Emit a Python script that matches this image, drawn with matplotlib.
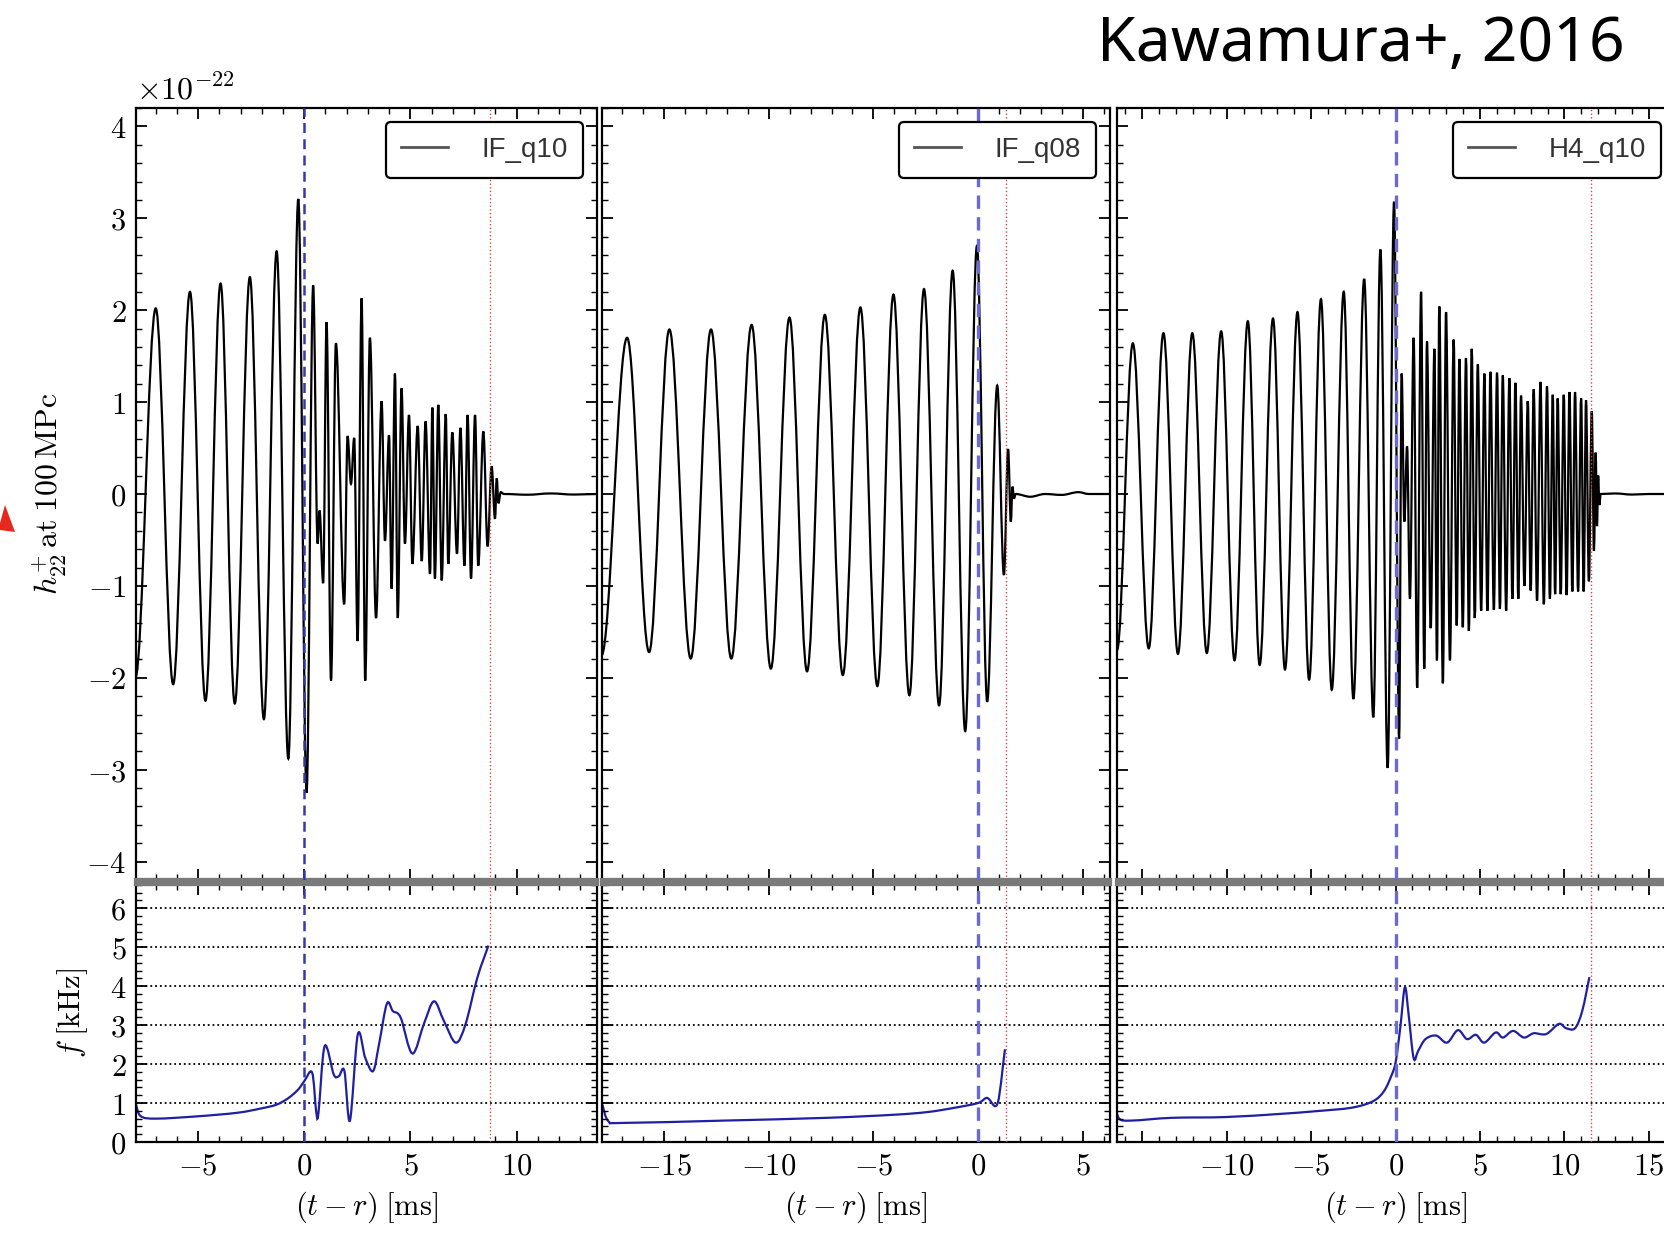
"""
Strain h22+ and instantaneous frequency for three BNS merger models (IF_q10, IF_q08, H4_q10),
redrawn from the Kawamura+ 2016 figure.
"""

import matplotlib

matplotlib.use("Agg")
import matplotlib.pyplot as plt
from matplotlib.lines import Line2D
from matplotlib.patches import PathPatch, Polygon
from matplotlib.path import Path
from matplotlib.ticker import FuncFormatter, MultipleLocator, NullFormatter

# --- strain extrema (t in ms, h in 1e-22) ---
q10_t = [-7.95, -6.99, -6.17, -5.38, -4.65, -3.94, -3.27, -2.56, -1.90, -1.30,
         -0.75, -0.28, 0.11, 0.42, 0.63, 0.72, 0.89, 1.05, 1.26, 1.49,
         1.88, 2.04, 2.20, 2.35, 2.51, 2.70, 2.87, 3.09, 3.38, 3.64,
         3.80, 3.99, 4.11, 4.27, 4.40, 4.58, 4.74, 4.93, 5.09, 5.34,
         5.53, 5.71, 5.92, 6.03, 6.15, 6.31, 6.47, 6.66, 6.78, 6.97,
         7.19, 7.35, 7.54, 7.69, 7.85, 8.04, 8.19, 8.43, 8.63, 8.82,
         8.98, 9.06, 9.14, 9.25, 9.40, 10.5, 11.6, 12.7, 13.8]
q10_h = [-2.00, 2.02, -2.07, 2.20, -2.25, 2.29, -2.28, 2.36, -2.45, 2.64,
         -2.88, 3.21, -3.25, 2.27, -0.54, -0.18, -0.97, 1.87, -2.03, 1.64,
         -1.20, 0.63, 0.11, 0.61, -1.60, 2.13, -2.03, 1.70, -1.35, 1.01,
         -0.51, 0.64, -1.03, 1.31, -1.35, 1.15, -0.54, 0.86, -0.76, 0.74,
         -0.73, 0.79, -0.87, 0.94, -0.92, 0.97, -0.94, 0.87, -0.76, 0.67,
         -0.65, 0.72, -0.78, 0.86, -0.92, 0.86, -0.78, 0.68, -0.57, 0.30,
         -0.27, 0.17, -0.10, 0.02, 0.0, -0.008, 0.006, -0.006, 0.0]

q08_t = [-18.0, -16.77, -15.72, -14.75, -13.73, -12.76, -11.79, -10.82, -9.90, -9.01,
         -8.17, -7.32, -6.46, -5.62, -4.81, -4.04, -3.28, -2.58, -1.86, -1.21,
         -0.61, -0.05, 0.44, 0.92, 1.24, 1.44, 1.57, 1.65, 1.72, 1.80,
         2.5, 3.2, 4.0, 4.8, 5.3, 6.3]
q08_h = [-1.76, 1.70, -1.72, 1.79, -1.79, 1.79, -1.79, 1.84, -1.90, 1.92,
         -1.93, 1.95, -1.97, 2.03, -2.09, 2.17, -2.19, 2.23, -2.30, 2.43,
         -2.58, 2.70, -2.26, 1.18, -0.88, 0.49, -0.30, 0.08, -0.05, 0.0,
         -0.03, 0.0, -0.01, 0.02, 0.0, 0.0]

h4_t = [-16.5, -15.56, -14.62, -13.75, -12.89, -12.04, -11.18, -10.33, -9.54, -8.75,
        -8.05, -7.26, -6.55, -5.81, -5.12, -4.42, -3.78, -3.07, -2.50, -1.86,
        -1.32, -0.90, -0.47, -0.09,
        0.21, 0.36, 0.52, 0.68, 0.85, 1.07, 1.28, 1.51, 1.70, 1.86,
        2.08, 2.30, 2.45, 2.59, 2.80, 2.99, 3.22, 3.44, 3.62, 3.78,
        3.98, 4.17, 4.34, 4.51, 4.69, 4.87, 5.07, 5.26, 5.44, 5.62,
        5.82, 6.01, 6.18, 6.35, 6.55, 6.74, 6.92, 7.10, 7.27, 7.43,
        7.63, 7.83, 8.00, 8.18, 8.38, 8.58, 8.78, 8.97, 9.14, 9.31,
        9.45, 9.60, 9.78, 9.96, 10.13, 10.30, 10.47, 10.63, 10.81, 10.99,
        11.14, 11.28, 11.45, 11.62, 11.75, 11.85, 11.93, 12.00, 12.07, 12.15,
        13.0, 14.0, 15.0, 16.5]
h4_h = [-1.70, 1.64, -1.68, 1.75, -1.74, 1.75, -1.73, 1.77, -1.81, 1.88,
        -1.86, 1.91, -1.91, 1.98, -2.02, 2.12, -2.13, 2.20, -2.23, 2.34,
        -2.43, 2.66, -2.98, 3.18,
        -2.66, 1.31, -0.30, 0.52, -1.14, 1.70, -2.11, 2.20, -1.90, 1.66,
        -1.46, 1.58, -1.81, 2.04, -2.06, 1.98, -1.81, 1.68, -1.43, 1.47,
        -1.45, 1.48, -1.49, 1.58, -1.35, 1.41, -1.27, 1.31, -1.27, 1.33,
        -1.26, 1.32, -1.25, 1.29, -1.27, 1.26, -1.14, 1.21, -1.14, 1.07,
        -1.00, 1.01, -1.05, 1.14, -1.16, 1.22, -1.20, 1.17, -1.14, 1.08,
        -1.09, 1.04, -1.09, 1.08, -1.10, 1.11, -1.06, 1.11, -1.06, 1.04,
        -1.06, 1.02, -0.95, 0.90, -0.62, 0.45, -0.35, 0.20, -0.12, 0.0,
        0.006, -0.006, 0.0, 0.0]

# --- instantaneous frequency (kHz) ---
q10_ft = [-7.92, -7.69, -6.94, -5.0, -3.15, -2.04, -1.30, -0.74, -0.28, 0.0,
          0.37, 0.56, 0.67, 0.96, 1.39, 1.63, 1.89, 2.15, 2.52, 2.87,
          3.24, 3.52, 3.89, 4.17, 4.54, 5.09, 5.65, 6.11, 6.57, 7.13,
          7.59, 8.15, 8.67]
q10_f = [0.96, 0.66, 0.60, 0.66, 0.75, 0.86, 0.96, 1.13, 1.35, 1.56,
         1.78, 0.79, 0.75, 2.46, 1.73, 1.69, 1.82, 0.55, 2.76, 2.16,
         1.82, 2.51, 3.55, 3.36, 3.19, 2.27, 3.06, 3.61, 3.11, 2.55,
         3.02, 4.22, 5.04]

q08_ft = [-17.95, -17.66, -16.93, -12.08, -7.24, -4.0, -2.39, -1.10, 0.0, 0.44,
          0.81, 1.0, 1.2, 1.29]
q08_f = [0.96, 0.53, 0.49, 0.55, 0.62, 0.70, 0.77, 0.88, 1.0, 1.13,
         0.92, 1.13, 1.99, 2.38]

h4_ft = [-16.58, -16.37, -15.62, -13.28, -10.07, -6.87, -4.74, -2.60, -1.32, -0.68,
         -0.26, 0.0, 0.28, 0.55, 0.77, 1.07, 1.34, 1.77, 2.41, 3.05,
         3.69, 4.23, 4.76, 5.25, 5.93, 6.36, 6.96, 7.60, 8.18, 8.92,
         9.67, 10.10, 10.63, 11.06, 11.48]
h4_f = [0.96, 0.60, 0.55, 0.62, 0.64, 0.72, 0.79, 0.88, 1.05, 1.31,
        1.69, 2.04, 2.94, 3.97, 3.28, 2.15, 2.34, 2.64, 2.73, 2.55,
        2.87, 2.64, 2.75, 2.55, 2.81, 2.68, 2.85, 2.68, 2.79, 2.77,
        3.03, 2.92, 2.92, 3.37, 4.23]

model_names = ["IF_q10", "IF_q08", "H4_q10"]
t_end = [8.75, 1.32, 11.59]  # red dotted line
x_limits = [(-7.92, 13.78), (-17.97, 6.31), (-16.5, 16.55)]
x_ticklabels_hidden = [[], [], [-15]]

W, H = 1665, 1240
PANEL_X = [(136, 597), (602, 1110), (1117, 1675)]
TOP_Y = (108, 880)
BOT_Y = (884, 1142)


def frac(x0, x1, y0, y1):
    return [x0 / W, 1 - y1 / H, (x1 - x0) / W, (y1 - y0) / H]


def wave_path(ts, hs, k=0.36):
    # smooth cubic segments between consecutive extrema, flat tangents at each extremum
    verts = [(ts[0], hs[0])]
    codes = [Path.MOVETO]
    for i in range(len(ts) - 1):
        dt = ts[i + 1] - ts[i]
        verts += [(ts[i] + k * dt, hs[i]), (ts[i + 1] - k * dt, hs[i + 1]), (ts[i + 1], hs[i + 1])]
        codes += [Path.CURVE4] * 3
    return Path(verts, codes)


def smooth_path(xs, ys):
    # Catmull-Rom style curve through the read points
    pts = list(zip(xs, ys))
    verts = [pts[0]]
    codes = [Path.MOVETO]
    for i in range(len(pts) - 1):
        p0 = pts[max(i - 1, 0)]
        p1 = pts[i]
        p2 = pts[i + 1]
        p3 = pts[min(i + 2, len(pts) - 1)]
        c1 = (p1[0] + (p2[0] - p0[0]) / 6, p1[1] + (p2[1] - p0[1]) / 6)
        c2 = (p2[0] - (p3[0] - p1[0]) / 6, p2[1] - (p3[1] - p1[1]) / 6)
        verts += [c1, c2, p2]
        codes += [Path.CURVE4] * 3
    return Path(verts, codes)


def style_axes(ax, xlim, ylim, xmaj, ymaj, ymin):
    ax.set_xlim(*xlim)
    ax.set_ylim(*ylim)
    ax.xaxis.set_major_locator(MultipleLocator(xmaj))
    ax.xaxis.set_minor_locator(MultipleLocator(1))
    ax.yaxis.set_major_locator(MultipleLocator(ymaj))
    ax.yaxis.set_minor_locator(MultipleLocator(ymin))
    ax.tick_params(which="both", direction="in", top=True, right=True, labelsize=22, pad=7)
    ax.tick_params(which="major", length=8, width=1.3)
    ax.tick_params(which="minor", length=4, width=1.0)
    for s in ax.spines.values():
        s.set_linewidth(1.6)


def main():
    plt.rcParams["mathtext.fontset"] = "cm"
    math_fmt = FuncFormatter(lambda v, p: f"${v:g}$")

    fig = plt.figure(figsize=(W / 100, H / 100), dpi=100)

    strains = [(q10_t, q10_h), (q08_t, q08_h), (h4_t, h4_h)]
    freqs = [(q10_ft, q10_f), (q08_ft, q08_f), (h4_ft, h4_f)]

    for i in range(3):
        x0, x1 = PANEL_X[i]
        ax = fig.add_axes(frac(x0, x1, *TOP_Y))
        bx = fig.add_axes(frac(x0, x1, *BOT_Y))

        style_axes(ax, x_limits[i], (-4.2, 4.2), 5, 1, 0.2)
        style_axes(bx, x_limits[i], (0, 6.62), 5, 1, 0.2)
        ax.spines["bottom"].set_color("#7a7a7a")
        ax.spines["bottom"].set_linewidth(3.1)
        bx.spines["top"].set_color("#7a7a7a")
        bx.spines["top"].set_linewidth(3.1)

        ax.xaxis.set_major_formatter(NullFormatter())
        hidden = x_ticklabels_hidden[i]
        bx.xaxis.set_major_formatter(
            FuncFormatter(lambda v, p, hidden=hidden: "" if round(v) in hidden else f"${v:g}$")
        )
        if i == 0:
            ax.yaxis.set_major_formatter(math_fmt)
            bx.yaxis.set_major_formatter(math_fmt)
        else:
            ax.yaxis.set_major_formatter(NullFormatter())
            bx.yaxis.set_major_formatter(NullFormatter())

        # waveform
        ts, hs = strains[i]
        ax.add_patch(PathPatch(wave_path(ts, hs), fill=False, edgecolor="black", lw=1.6))

        # frequency
        ft, fv = freqs[i]
        bx.add_patch(PathPatch(smooth_path(ft, fv), fill=False, edgecolor="#1f1fa0", lw=1.6))
        for lvl in range(1, 7):
            bx.axhline(lvl, color="black", ls=":", lw=1.3, zorder=0.5)

        # merger / collapse markers
        dash_col = "#3838ac" if i == 0 else "#6a6ad0"
        dash_lw = 1.8 if i == 0 else 2.4
        for a in (ax, bx):
            a.axvline(0, color=dash_col, lw=dash_lw, ls=(0, (4, 2.5)), zorder=3)
            a.axvline(t_end[i], color="#d04848", lw=1.0, ls=":", zorder=3)

        handle = Line2D([], [], color="#555555", lw=2)
        leg = ax.legend(
            [handle], [model_names[i]], loc="upper right",
            prop={"family": "Liberation Sans", "size": 20},
            handlelength=1.7, handletextpad=1.2, borderaxespad=0.5, borderpad=0.55,
            fancybox=True, framealpha=1, edgecolor="black",
        )
        leg.get_frame().set_linewidth(1.6)
        for txt in leg.get_texts():
            txt.set_color("#333333")

        bx.set_xlabel(r"$(t-r)\;[\mathrm{ms}]$", fontsize=22, labelpad=6)
        if i == 0:
            ax.set_ylabel(r"$h^{+}_{22}\,\mathrm{at}\;100\,\mathrm{MPc}$", fontsize=23, labelpad=12)
            bx.set_ylabel(r"$f\;[\mathrm{kHz}]$", fontsize=22, labelpad=14)

    fig.text(136 / W, 1 - 90 / H, r"$\times10^{-22}$", fontsize=23, ha="left", va="center")
    fig.text(1625 / W, 1 - 45 / H, "Kawamura+, 2016", fontsize=45,
             family="Noto Sans", ha="right", va="center")

    # tip of a red arrow entering from the left
    arrow = [(0, 523), (5, 505), (15, 532), (0, 530)]
    fig.patches.append(Polygon([(x / W, 1 - y / H) for x, y in arrow], closed=True,
                               transform=fig.transFigure, facecolor="#e8281c", edgecolor="none"))

    fig.savefig("out.png", dpi=100)


if __name__ == "__main__":
    main()
